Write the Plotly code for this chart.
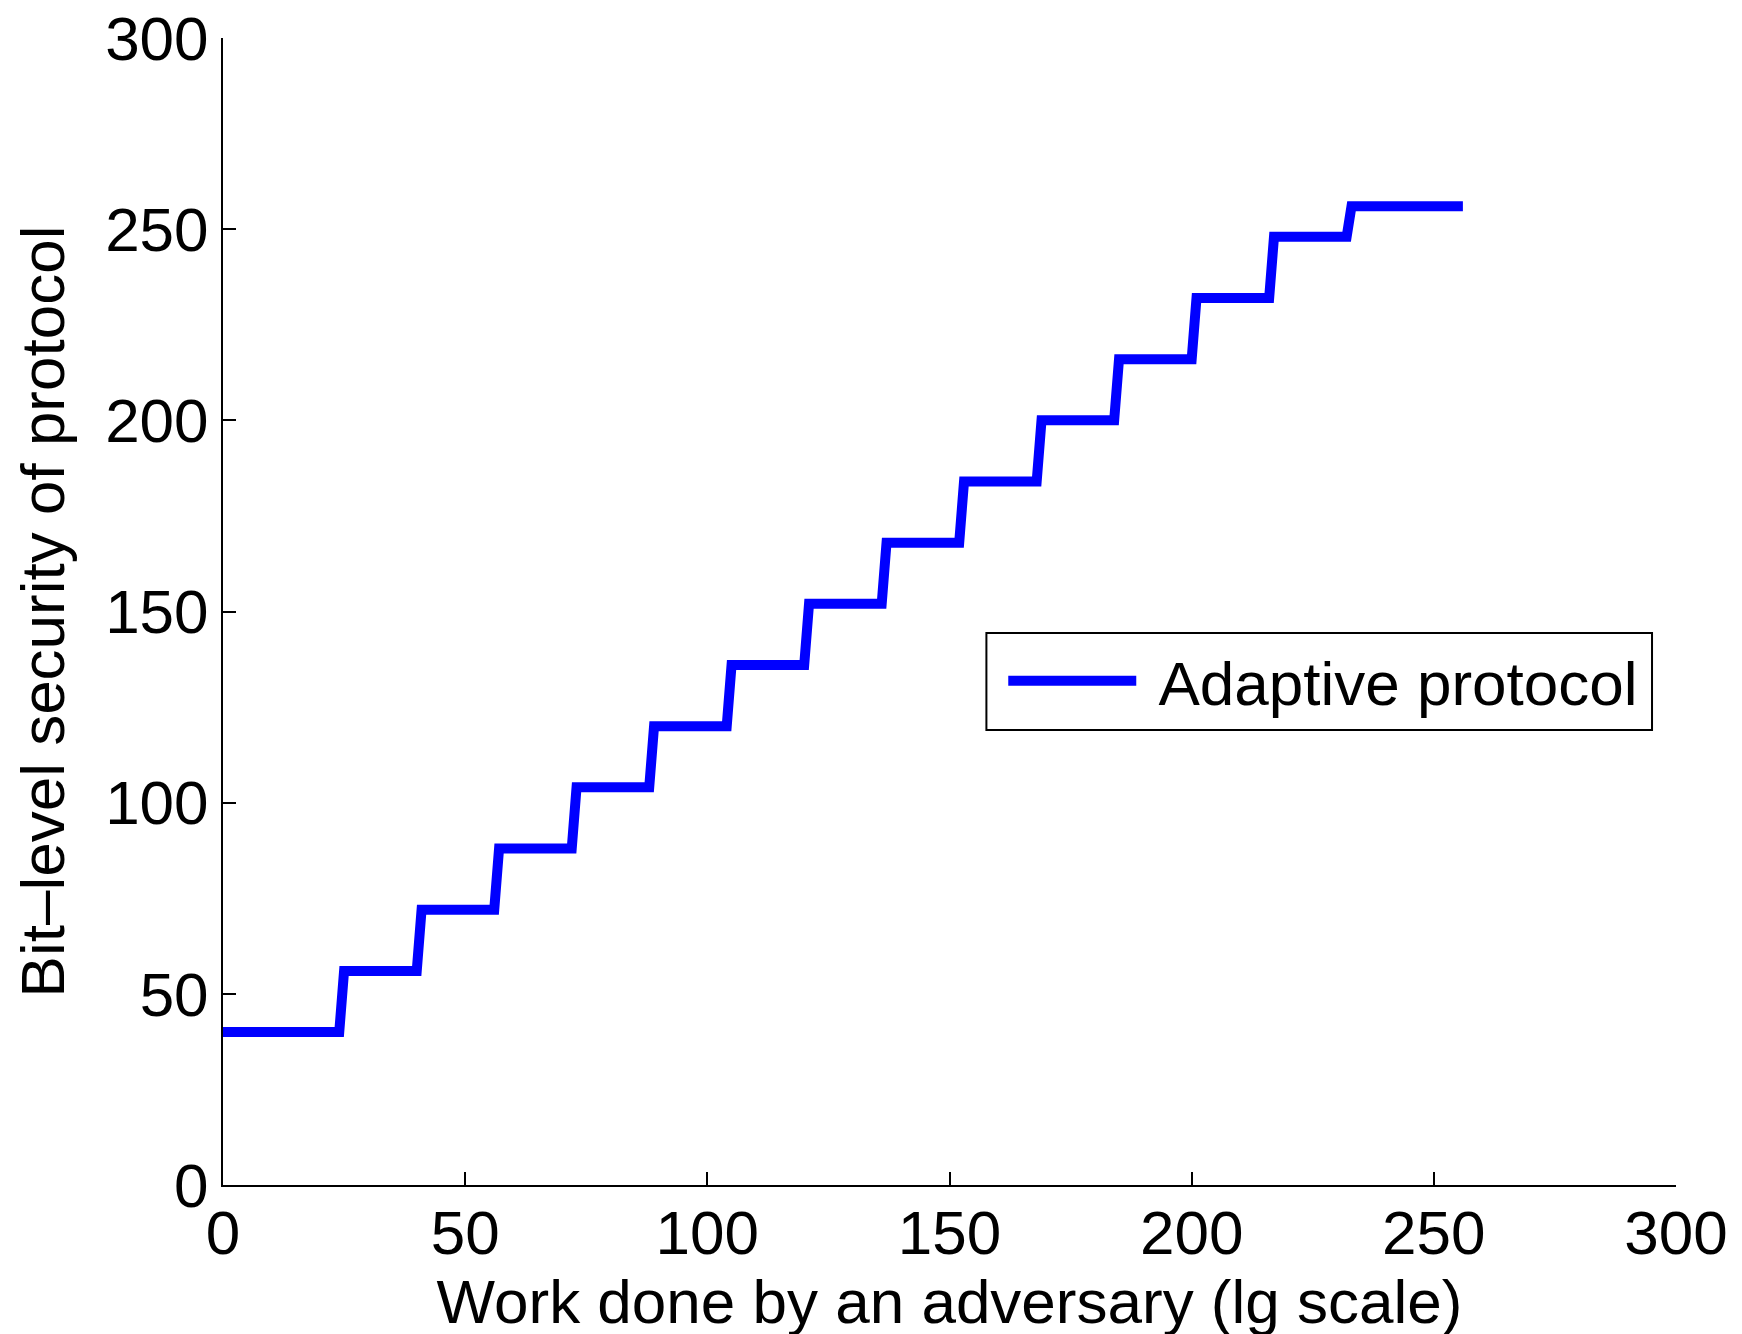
import plotly.graph_objects as go

# corners of the step curve (work in lg scale -> bit-level security)
work_lg = [0, 24, 25, 40, 41, 56, 57, 72, 73, 88, 89, 104, 105, 120, 121,
           136, 137, 152, 153, 168, 169, 184, 185, 200, 201, 216, 217, 232, 233, 256]
security_bits = [40, 40, 56, 56, 72, 72, 88, 88, 104, 104, 120, 120, 136, 136, 152,
                 152, 168, 168, 184, 184, 200, 200, 216, 216, 232, 232, 248, 248, 256, 256]

tick_vals = [0, 50, 100, 150, 200, 250, 300]

FONT = "Liberation Sans, Arial, Helvetica, sans-serif"
FS = 62

fig = go.Figure()
fig.add_trace(go.Scatter(
    x=work_lg, y=security_bits, mode="lines",
    name="\u00a0Adaptive protocol",
    line=dict(color="#0000ff", width=10),
))

axis_common = dict(
    showgrid=False, zeroline=False, showline=True, linecolor="black", linewidth=2,
    ticks="inside", ticklen=13, tickwidth=2, tickcolor="black",
    tickvals=tick_vals, tickfont=dict(size=FS, color="black", family=FONT),
    range=[0, 300], mirror=False, automargin=False, ticklabeloverflow="allow",
)

# page body has an 8px margin, so the margins are shifted to compensate
fig.update_layout(
    width=1742, height=1334,
    paper_bgcolor="white", plot_bgcolor="white",
    margin=dict(l=215, r=74, t=30, b=157),
    font=dict(family=FONT, color="black"),
    xaxis=dict(**axis_common, ticklabelstandoff=-7,
               title=dict(text="Work done by an adversary (lg scale)",
                          font=dict(size=FS, color="black", family=FONT), standoff=0)),
    yaxis=dict(**axis_common,
               title=dict(text="Bit–level security of protocol",
                          font=dict(size=FS, color="black", family=FONT), standoff=21)),
    showlegend=True,
    legend=dict(x=0.537, y=0.4394, xanchor="left", yanchor="middle",
                bgcolor="rgba(0,0,0,0)", borderwidth=0,
                font=dict(size=FS, color="black", family=FONT),
                itemwidth=128),
    # legend frame
    shapes=[dict(type="rect", xref="paper", yref="paper",
                 x0=0.5254, x1=0.9835, y0=0.3967, y1=0.4812,
                 line=dict(color="black", width=2), fillcolor="white", layer="below")],
)

fig.write_html("out.html")
